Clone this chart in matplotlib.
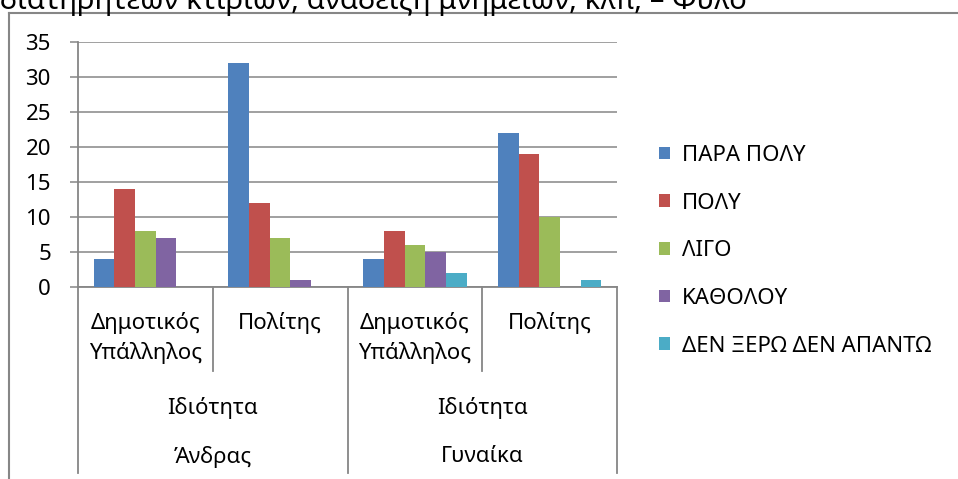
import matplotlib
matplotlib.use('Agg')
import matplotlib.pyplot as plt
import numpy as np
from matplotlib.lines import Line2D
from matplotlib.patches import Patch
from matplotlib.transforms import blended_transform_factory

plt.rcParams['font.family'] = ['Noto Sans', 'DejaVu Sans']

# data
roles = ['Δημοτικός\nΥπάλληλος', 'Πολίτης', 'Δημοτικός\nΥπάλληλος', 'Πολίτης']
mid_labels = ['Ιδιότητα', 'Ιδιότητα']
sex_labels = ['Άνδρας', 'Γυναίκα']
series_names = ['ΠΑΡΑ ΠΟΛΥ', 'ΠΟΛΥ', 'ΛΙΓΟ', 'ΚΑΘΟΛΟΥ', 'ΔΕΝ ΞΕΡΩ ΔΕΝ ΑΠΑΝΤΩ']
para_poly = [4, 32, 4, 22]
poly = [14, 12, 8, 19]
ligo = [8, 7, 6, 10]
katholou = [7, 1, 5, 0]
den_xero = [0, 0, 2, 1]
title_text = 'διατηρητέων κτιρίων, ανάδειξη μνημείων, κλπ; – Φύλο'

colors = ['#4F81BD', '#C0504D', '#9BBB59', '#8064A2', '#4BACC6']
grey = '#868686'
W, H = 958, 479
fs = 16

def fx(px):
    return px / W

def fy(py):
    return 1 - py / H

fig = plt.figure(figsize=(W / 100, H / 100), dpi=100)
ax = fig.add_axes([fx(78), fy(287), fx(617) - fx(78), fy(42) - fy(287)])

all_series = [para_poly, poly, ligo, katholou, den_xero]
n = len(all_series)
bw = 1 / (n + 1.5)
x = np.arange(len(roles))
for i, vals in enumerate(all_series):
    ax.bar(x + 0.75 * bw + i * bw, vals, width=bw, align='edge',
           color=colors[i], linewidth=0, zorder=3)

ax.set_xlim(0, len(roles))
ax.set_ylim(0, 35)
ax.set_yticks(np.arange(0, 36, 5))
ax.set_xticks([])
ax.yaxis.grid(True, color=grey, linewidth=1.1)
ax.set_axisbelow(True)
for s in ['top', 'right']:
    ax.spines[s].set_visible(False)
ax.spines['left'].set_color(grey)
ax.spines['bottom'].set_color(grey)
ax.spines['left'].set_linewidth(1.3)
ax.spines['bottom'].set_linewidth(1.3)
ax.tick_params(axis='y', length=5.5, width=1.1, color=grey, labelsize=fs, pad=14)

# multi-level category axis
tr = blended_transform_factory(ax.transData, fig.transFigure)
for xs, bottom in [([0, 2, 4], 473), ([1, 3], 371)]:
    for xv in xs:
        ax.add_line(Line2D([xv, xv], [fy(287), fy(bottom)], transform=tr,
                           color=grey, linewidth=1.3, clip_on=False))
for i, lab in enumerate(roles):
    ax.text(i + 0.5, fy(312), lab, transform=tr, ha='center', va='top',
            fontsize=fs, linespacing=1.5)
for i, lab in enumerate(mid_labels):
    ax.text(2 * i + 1, fy(408), lab, transform=tr, ha='center', va='center', fontsize=fs)
for i, lab in enumerate(sex_labels):
    ax.text(2 * i + 1, fy(457), lab, transform=tr, ha='center', va='center', fontsize=fs)

# legend
handles = [Patch(facecolor=c, edgecolor='none') for c in colors]
fig.legend(handles, series_names, loc='upper left', bbox_to_anchor=(fx(659), fy(145)),
           frameon=False, fontsize=fs, handlelength=0.5, handleheight=0.5,
           handletextpad=0.55, labelspacing=1.2, borderaxespad=0, borderpad=0)

# clipped title and outer frame
fig.text(0, fy(9), title_text, fontsize=21, ha='left', va='baseline')
fig.add_artist(Line2D([fx(9), fx(9)], [fy(13), 0], transform=fig.transFigure,
                      color=grey, linewidth=1.5))
fig.add_artist(Line2D([fx(9), 1], [fy(13), fy(13)], transform=fig.transFigure,
                      color=grey, linewidth=1.5))

fig.savefig('out.png', dpi=100)
